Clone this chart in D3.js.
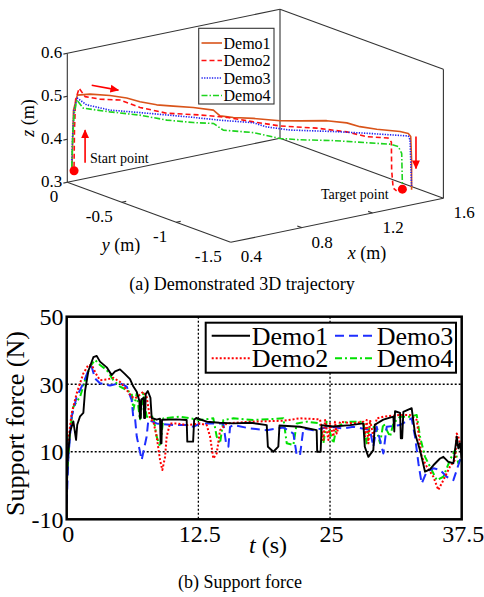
<!DOCTYPE html>
<html>
<head>
<meta charset="utf-8">
<script src="https://cdn.jsdelivr.net/npm/d3@7"></script>
<style>
  html, body { margin: 0; padding: 0; background: #fff; }
</style>
</head>
<body>
<svg id="fig" width="484" height="597"></svg>
<script>
// ---------- (a) demonstrated 3D trajectories, metres ----------
const demo1X = [0.417,0.419,0.422,0.435,0.478,0.545,0.601,0.646,0.702,0.758,0.825,0.893,0.915,0.960,1.027,1.117,1.184,1.274,1.342,1.386,1.443,1.521,1.549,1.557,1.560,1.560];
const demo1Y = [-0.016,-0.018,-0.021,-0.035,-0.082,-0.156,-0.218,-0.267,-0.329,-0.391,-0.465,-0.539,-0.564,-0.613,-0.687,-0.786,-0.860,-0.959,-1.033,-1.082,-1.144,-1.230,-1.261,-1.270,-1.273,-1.273];
const demo1Z = [0.333,0.398,0.468,0.503,0.506,0.504,0.499,0.491,0.485,0.483,0.481,0.476,0.463,0.460,0.459,0.455,0.456,0.458,0.454,0.446,0.441,0.437,0.433,0.426,0.371,0.302];

const demo2X = [0.424,0.425,0.429,0.441,0.461,0.511,0.579,0.646,0.736,0.848,0.938,1.027,1.117,1.241,1.342,1.409,1.454,1.481,1.492,1.493,1.499,1.505];
const demo2Y = [-0.023,-0.025,-0.029,-0.042,-0.064,-0.119,-0.193,-0.267,-0.366,-0.490,-0.589,-0.687,-0.786,-0.922,-1.033,-1.107,-1.156,-1.186,-1.198,-1.199,-1.203,-1.225];
const demo2Z = [0.336,0.422,0.492,0.519,0.500,0.495,0.494,0.478,0.466,0.464,0.460,0.451,0.443,0.440,0.433,0.423,0.422,0.421,0.412,0.347,0.305,0.300];

const demo3X = [0.416,0.419,0.424,0.435,0.466,0.545,0.646,0.736,0.825,0.915,1.027,1.072,1.151,1.297,1.409,1.549,1.555,1.558,1.560];
const demo3Y = [-0.015,-0.018,-0.023,-0.035,-0.070,-0.156,-0.267,-0.366,-0.465,-0.564,-0.687,-0.737,-0.823,-0.983,-1.107,-1.261,-1.267,-1.271,-1.273];
const demo3Z = [0.345,0.410,0.468,0.496,0.481,0.470,0.466,0.462,0.458,0.453,0.449,0.440,0.434,0.433,0.431,0.427,0.418,0.348,0.309];

const demo4X = [0.416,0.419,0.424,0.433,0.455,0.545,0.646,0.736,0.825,0.893,0.926,1.027,1.117,1.184,1.297,1.409,1.487,1.515,1.527,1.529];
const demo4Y = [-0.015,-0.018,-0.023,-0.033,-0.058,-0.156,-0.267,-0.366,-0.465,-0.539,-0.576,-0.687,-0.786,-0.860,-0.983,-1.107,-1.193,-1.224,-1.236,-1.239];
const demo4Z = [0.336,0.398,0.457,0.492,0.473,0.466,0.460,0.450,0.446,0.445,0.430,0.426,0.414,0.412,0.412,0.409,0.407,0.402,0.386,0.313];

const startPoint  = [0.424, -0.023, 0.327];
const targetPoint = [1.529, -1.239, 0.303];

// direction arrows: [from, to] in metres
const arrowUp    = [[0.461,-0.064,0.346],[0.461,-0.064,0.422]];
const arrowRight = [[0.483,-0.089,0.527],[0.573,-0.187,0.517]];
const arrowDown  = [[1.575,-1.289,0.426],[1.575,-1.289,0.352]];

const xTicks3 = [0.4, 0.8, 1.2, 1.6];
const yTicks3 = [0, -0.5, -1, -1.5];
const zTicks3 = [0.3, 0.4, 0.5, 0.6];

// ---------- (b) support force ----------
const t1 = [0,0.1,0.32,0.63,0.89,1.0,1.27,1.58,1.74,2.06,2.53,2.85,3.16,3.8,4.27,4.59,5.06,5.54,6.01,6.33,6.65,6.9,6.95,7.03,7.08,7.3,7.35,7.44,7.5,7.7,7.95,8.07,8.54,8.86,8.92,9.0,9.05,10.44,11.39,11.45,12.0,12.1,12.3,13.29,14.5,15.82,17.5,18.99,19.1,19.62,20.09,20.2,22.15,23.73,23.78,24.11,24.2,25.32,26.9,28.16,28.3,28.64,29.11,29.25,30.06,31.01,31.1,31.17,31.65,31.72,31.85,31.96,32.75,32.85,33.07,33.54,34.02,34.49,34.81,35.44,35.76,36.23,36.71,37.03,37.18,37.34,37.5];
const f1 = [-2,8,16,19,13.5,18,20.5,21.5,28,34,38,38.4,36.7,35,32.7,33.8,34.4,33,31.5,29.3,27.8,25,20,20,25.5,26,20,20,27,28,26,20,19.5,19.8,12.5,12.5,19.5,19.6,19.4,13,13,19.5,20,18.9,18.6,18.4,18.6,17.9,11.5,10,11.5,17.8,17.4,16.4,10,10,17.9,17.5,17.9,18.4,11.5,8.5,10.5,18,19.5,20.4,16,22,21.5,14,14,21.8,22.9,20.5,15.4,10.5,4.1,4.8,6,8,8.5,7,6.6,14.5,11,12.5,8];

const t2 = [0,0.16,0.47,0.95,1.58,2.06,2.37,2.85,3.16,3.8,4.43,5.06,5.7,6.17,6.49,6.8,7.28,7.59,7.91,8.23,8.54,8.86,9.08,9.34,9.49,9.81,10.44,11.39,12.66,13.29,13.61,13.92,14.24,14.56,15.19,17.41,20.57,22.15,24.05,24.37,24.53,24.84,25.0,25.32,25.47,25.63,25.95,27.22,28.16,28.32,28.48,28.64,28.8,29.11,29.43,30.06,31.65,32.59,33.23,33.7,34.18,34.81,35.28,35.76,36.39,36.87,37.03,37.18,37.34,37.5];
const f2 = [5,13.5,21.4,27.3,33.2,35.7,35.7,32.7,31.2,31.4,31.9,30.7,28.3,26.3,25.8,26.5,27.8,26.3,19.9,18.9,14.5,7.6,4.6,8.5,14.5,18.4,18.4,17.9,18.4,17.9,14.5,8,9.5,16.4,18.4,18.9,19.2,19.9,19.6,13.5,19.4,13.5,18.4,14.5,18.9,15.4,18.9,18.4,18.9,14.5,19.4,12.5,19.4,14.5,19.9,20.4,20.9,20.9,19.4,8.5,5.6,2.6,-1.3,1.6,5.6,7.6,15.4,14.5,12.5,10.5];

const t3 = [0,0.16,0.47,0.95,1.58,2.06,2.37,2.69,3.16,4.11,5.06,5.7,6.17,6.33,6.49,6.65,7.12,7.59,7.75,8.54,10.13,11.39,12.03,12.66,13.92,14.87,15.13,15.35,15.51,15.82,17.41,18.99,20.57,21.52,21.84,22.15,22.47,23.42,25.0,26.27,27.22,28.8,29.11,29.43,30.06,30.38,31.65,32.75,33.07,33.39,33.7,34.18,34.81,35.44,36.08,36.71,37.03,37.34,37.5];
const f3 = [-5.3,8.5,20.4,26.3,30.3,34.2,35.2,31.7,30.3,29.6,30.3,29.3,25.3,19.9,19.9,14.5,7.6,14.5,19.4,18.4,17.9,17.9,17.4,18.4,18.4,18.4,12.5,11.5,17.4,17.9,16.9,16.4,17.2,15.4,9,9,16.9,16.4,17.4,16.9,17.4,16.4,11.5,17.4,9.5,17.4,17.9,19.9,14.5,6.6,0.6,4.1,5.1,4.6,2.6,1.6,4.6,7.6,6];

const t4 = [0,0.32,0.63,1.27,1.74,2.22,2.69,3.16,3.8,4.43,5.06,5.7,6.17,6.33,6.65,6.96,7.28,7.59,8.23,8.54,8.86,9.18,10.76,12.66,13.92,14.24,14.56,14.87,15.82,17.72,20.57,20.89,21.52,21.84,22.78,24.05,24.37,24.68,25.32,25.63,26.58,28.16,28.48,28.8,29.43,29.75,30.06,30.7,31.01,31.65,32.59,33.23,33.54,34.02,34.49,35.13,35.76,36.39,36.87,37.18,37.5];
const f4 = [0.6,16.4,23.3,26.3,31.2,35.2,37.2,35.7,34.2,31.2,29.3,28.3,27.3,22.4,27.3,19.4,27.3,20.4,20.4,14.5,11.5,19.9,20.4,19.4,19.9,14.5,12.5,19.4,19.9,19.4,19.9,12.5,12,18.4,18.9,18.4,12.5,18.9,12.5,17.4,18.9,18.9,12.5,18.4,16.4,12.5,18.4,14.5,18.4,20.4,20.4,20.9,14.5,8.5,5.6,1.6,2.6,7.6,10.5,6.6,8.5];

const forceTicksX = [0, 12.5, 25, 37.5];
const forceTicksY = [-10, 10, 30, 50];
const forceGridX = [12.5, 25];
const forceGridY = [10, 30];

// ---------------------------------------------------------------
const SERIF = "'Liberation Serif', Tinos, 'Times New Roman', Times, 'DejaVu Serif', serif";
const svg = d3.select("#fig").attr("font-family", SERIF).style("font-family", SERIF);
svg.append("rect").attr("width", 484).attr("height", 597).attr("fill", "#fff");

const defs = svg.append("defs");
defs.append("marker")
  .attr("id", "redhead").attr("viewBox", "0 0 10 10")
  .attr("refX", 9).attr("refY", 5)
  .attr("markerWidth", 5.5).attr("markerHeight", 5.5)
  .attr("orient", "auto")
  .append("path").attr("d", "M0,0.5 L10,5 L0,9.5 Z").attr("fill", "#f00");

// ---- oblique projection of the 3D box ----
const ux = d3.scaleLinear().domain([0.4, 1.6]).range([0, 1]);
const uy = d3.scaleLinear().domain([0, -1.5]).range([0, 1]);
const uz = d3.scaleLinear().domain([0.3, 0.6]).range([0, 1]);
const O = [67.3, 182.3], EX = [212.7, -44], EY = [163.4, 60], EZ = [0, -129];
function proj(p) {
  const u = ux(p[0]), v = uy(p[1]), w = uz(p[2]);
  return [O[0] + u * EX[0] + v * EY[0] + w * EZ[0],
          O[1] + u * EX[1] + v * EY[1] + w * EZ[1]];
}

const g3 = svg.append("g");
const boxEdges = [
  [[0.4,0,0.3],[0.4,0,0.6]],
  [[0.4,0,0.6],[1.6,0,0.6]],
  [[1.6,0,0.6],[1.6,-1.5,0.6]],
  [[1.6,-1.5,0.6],[1.6,-1.5,0.3]],
  [[1.6,0,0.6],[1.6,0,0.3]],
  [[0.4,0,0.3],[1.6,0,0.3]],
  [[1.6,0,0.3],[1.6,-1.5,0.3]],
  [[0.4,0,0.3],[0.4,-1.5,0.3]],
  [[0.4,-1.5,0.3],[1.6,-1.5,0.3]]
];
g3.selectAll("line.edge").data(boxEdges).join("line")
  .attr("class", "edge")
  .attr("x1", d => proj(d[0])[0]).attr("y1", d => proj(d[0])[1])
  .attr("x2", d => proj(d[1])[0]).attr("y2", d => proj(d[1])[1])
  .attr("stroke", "#333").attr("stroke-width", 1.1);

// ticks
const tick3 = [];
zTicks3.forEach(z => tick3.push([[0.4,0,z],[0.378,0,z]]));
yTicks3.slice(1, -1).forEach(y => tick3.push([[0.4,y,0.3],[0.425,y,0.3]]));
xTicks3.slice(1, -1).forEach(x => tick3.push([[x,-1.5,0.3],[x,-1.46,0.3]]));
g3.selectAll("line.tick").data(tick3).join("line")
  .attr("class", "tick")
  .attr("x1", d => proj(d[0])[0]).attr("y1", d => proj(d[0])[1])
  .attr("x2", d => proj(d[1])[0]).attr("y2", d => proj(d[1])[1])
  .attr("stroke", "#333").attr("stroke-width", 1.1);

const fmt3 = d => (d < 0 ? "-" : "") + String(Math.abs(d));
g3.selectAll("text.zt").data(zTicks3).join("text")
  .attr("x", d => proj([0.4,0,d])[0] - 5)
  .attr("y", d => proj([0.4,0,d])[1] + 5)
  .attr("text-anchor", "end").attr("font-size", 17)
  .text(d => d.toFixed(1));
g3.selectAll("text.yt").data(yTicks3).join("text")
  .attr("x", d => proj([0.4,d,0.3])[0] - 9)
  .attr("y", d => proj([0.4,d,0.3])[1] + 19.5)
  .attr("text-anchor", "end").attr("font-size", 17)
  .text(fmt3);
g3.selectAll("text.xt").data(xTicks3).join("text")
  .attr("x", d => proj([d,-1.5,0.3])[0] + 10)
  .attr("y", d => proj([d,-1.5,0.3])[1] + 20)
  .attr("text-anchor", "start").attr("font-size", 17)
  .text(d => d.toFixed(1));

// axis titles
function mathLabel(sel, v) {
  sel.append("tspan").attr("font-style", "italic").text(v);
  sel.append("tspan").text(" (m)");
}
g3.append("text").attr("x", 121).attr("y", 251).attr("text-anchor", "middle")
  .attr("font-size", 18).call(mathLabel, "y");
g3.append("text").attr("x", 367).attr("y", 259).attr("text-anchor", "middle")
  .attr("font-size", 18).call(mathLabel, "x");
g3.append("text").attr("transform", "translate(34,118) rotate(-90)")
  .attr("text-anchor", "middle").attr("font-size", 18).call(mathLabel, "z");

// trajectories
const demos3 = [
  { name: "Demo1", X: demo1X, Y: demo1Y, Z: demo1Z, color: "#D9541A", dash: null },
  { name: "Demo2", X: demo2X, Y: demo2Y, Z: demo2Z, color: "#FF1010", dash: "5,3" },
  { name: "Demo3", X: demo3X, Y: demo3Y, Z: demo3Z, color: "#2020F0", dash: "1.3,1.3" },
  { name: "Demo4", X: demo4X, Y: demo4Y, Z: demo4Z, color: "#1ED41E", dash: "6,2,1.5,2" }
];
const line3 = d3.line();
demos3.forEach(d => {
  const pts = d.X.map((x, i) => proj([x, d.Y[i], d.Z[i]]));
  g3.append("path").attr("d", line3(pts)).attr("fill", "none")
    .attr("stroke", d.color).attr("stroke-width", 1.6)
    .attr("stroke-linejoin", "round")
    .attr("stroke-dasharray", d.dash);
});

// start / target markers
[startPoint, targetPoint].forEach(p => {
  const s = proj(p);
  g3.append("circle").attr("cx", s[0]).attr("cy", s[1]).attr("r", 4.5).attr("fill", "#f00");
});

// arrows
[arrowUp, arrowRight, arrowDown].forEach(a => {
  const p0 = proj(a[0]), p1 = proj(a[1]);
  g3.append("line").attr("x1", p0[0]).attr("y1", p0[1]).attr("x2", p1[0]).attr("y2", p1[1])
    .attr("stroke", "#f00").attr("stroke-width", 1.6).attr("marker-end", "url(#redhead)");
});

g3.append("text").attr("x", 90).attr("y", 162.5).attr("font-size", 14).text("Start point");
g3.append("text").attr("x", 321).attr("y", 198.5).attr("font-size", 14).text("Target point");

// legend (a)
const lg3 = g3.append("g");
lg3.append("rect").attr("x", 198.7).attr("y", 28.3).attr("width", 75.3).attr("height", 75.7)
  .attr("fill", "#fff").attr("stroke", "#333").attr("stroke-width", 1.1);
demos3.forEach((d, i) => {
  const yy = 43 + i * 17.5;
  lg3.append("line").attr("x1", 201.5).attr("x2", 222).attr("y1", yy).attr("y2", yy)
    .attr("stroke", d.color).attr("stroke-width", 1.6).attr("stroke-dasharray", d.dash);
  lg3.append("text").attr("x", 223.5).attr("y", yy + 5.5).attr("font-size", 16).text(d.name);
});

svg.append("text").attr("x", 242).attr("y", 290).attr("text-anchor", "middle")
  .attr("font-size", 18).text("(a) Demonstrated 3D trajectory");

// ---- (b) support force ----
const L = 66.7, R = 461.7, T = 316.7, B = 519.3;
const xS = d3.scaleLinear().domain([0, 37.5]).range([L, R]);
const yS = d3.scaleLinear().domain([-10, 50]).range([B, T]);
const gb = svg.append("g");

defs.append("clipPath").attr("id", "plotclip")
  .append("rect").attr("x", L).attr("y", T).attr("width", R - L).attr("height", B - T);

gb.selectAll("line.gx").data(forceGridX).join("line")
  .attr("x1", d => xS(d)).attr("x2", d => xS(d)).attr("y1", T).attr("y2", B)
  .attr("stroke", "#000").attr("stroke-width", 1.3).attr("stroke-dasharray", "2,2");
gb.selectAll("line.gy").data(forceGridY).join("line")
  .attr("y1", d => yS(d)).attr("y2", d => yS(d)).attr("x1", L).attr("x2", R)
  .attr("stroke", "#000").attr("stroke-width", 1.3).attr("stroke-dasharray", "2,2");

const forceSeries = [
  { name: "Demo1", t: t1, f: f1, color: "#000", dash: null, w: 1.9 },
  { name: "Demo2", t: t2, f: f2, color: "#FF0000", dash: "2,2", w: 2 },
  { name: "Demo3", t: t3, f: f3, color: "#1E2EFF", dash: "9,5", w: 2 },
  { name: "Demo4", t: t4, f: f4, color: "#00E000", dash: "7,3,2,3", w: 2 }
];
const lineF = d3.line().x(d => xS(d[0])).y(d => yS(d[1]));
const plotG = gb.append("g").attr("clip-path", "url(#plotclip)");
[forceSeries[3], forceSeries[2], forceSeries[1], forceSeries[0]].forEach(s => {
  plotG.append("path").datum(s.t.map((t, i) => [t, s.f[i]]))
    .attr("d", lineF).attr("fill", "none")
    .attr("stroke", s.color).attr("stroke-width", s.w)
    .attr("stroke-dasharray", s.dash).attr("stroke-linejoin", "round");
});

gb.append("rect").attr("x", L).attr("y", T).attr("width", R - L).attr("height", B - T)
  .attr("fill", "none").attr("stroke", "#000").attr("stroke-width", 2.5);

gb.selectAll("text.ytk").data(forceTicksY).join("text")
  .attr("x", 63.5).attr("y", d => yS(d) + 8.5)
  .attr("text-anchor", "end").attr("font-size", 24).text(d => d);
gb.selectAll("text.xtk").data(forceTicksX).join("text")
  .attr("x", d => xS(d) + 1.5).attr("y", 541.7)
  .attr("text-anchor", "middle").attr("font-size", 24).text(d => d);

const tl = gb.append("text").attr("x", 268).attr("y", 553).attr("text-anchor", "middle").attr("font-size", 24);
tl.append("tspan").attr("font-style", "italic").text("t");
tl.append("tspan").text(" (s)");
gb.append("text").attr("transform", "translate(24,423.5) rotate(-90)")
  .attr("text-anchor", "middle").attr("font-size", 26).text("Support force (N)");

// legend (b)
const lgb = gb.append("g");
lgb.append("rect").attr("x", 205.7).attr("y", 322.7).attr("width", 250.3).attr("height", 50)
  .attr("fill", "#fff").attr("stroke", "#000").attr("stroke-width", 2);
const legPos = [
  { x1: 211.7, x2: 250, tx: 251.7, y: 335.7 },
  { x1: 211.7, x2: 250, tx: 251.7, y: 358.3 },
  { x1: 335, x2: 372, tx: 376.7, y: 335.7 },
  { x1: 335, x2: 375, tx: 376.7, y: 358.3 }
];
forceSeries.forEach((s, i) => {
  const p = legPos[i];
  lgb.append("line").attr("x1", p.x1).attr("x2", p.x2).attr("y1", p.y).attr("y2", p.y)
    .attr("stroke", s.color).attr("stroke-width", s.w).attr("stroke-dasharray", s.dash);
  lgb.append("text").attr("x", p.tx).attr("y", p.y + 8.8).attr("font-size", 26).text(s.name);
});

svg.append("text").attr("x", 240).attr("y", 588).attr("text-anchor", "middle")
  .attr("font-size", 18).text("(b) Support force");
</script>
</body>
</html>
